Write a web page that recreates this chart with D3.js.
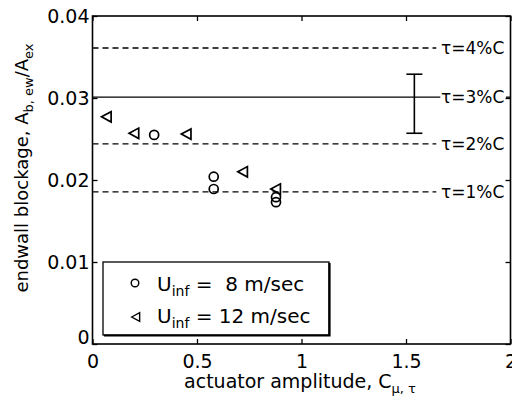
<!DOCTYPE html>
<html>
<head>
<meta charset="utf-8">
<script src="https://cdn.jsdelivr.net/npm/d3@7"></script>
<style>
  body { margin: 0; background: #fff; }
  svg text { font-family: "DejaVu Sans", "Liberation Sans", Arial, sans-serif; fill: #000; }
</style>
</head>
<body>
<script>
// data
let xTicks = [0, 0.5, 1, 1.5, 2];
let yTicks = [0, 0.01, 0.02, 0.03, 0.04];

let u8X = [0.295, 0.58, 0.58, 0.878, 0.878];
let u8Y = [0.0255, 0.0204, 0.0189, 0.0179, 0.0173];

let u12X = [0.068, 0.20, 0.45, 0.72, 0.878];
let u12Y = [0.0277, 0.0257, 0.0256, 0.0210, 0.0189];

let tauLabels = ['τ=4%C', 'τ=3%C', 'τ=2%C', 'τ=1%C'];
let tauLevels = [0.0361, 0.0301, 0.0244, 0.01855];
let tauDashed = [true, false, true, true];

let errX = 1.54;
let errLo = 0.0257;
let errHi = 0.0329;

let width = 512, height = 403;

let x = d3.scaleLinear().domain([0, 2]).range([92.5, 510.5]);
let y = d3.scaleLinear().domain([0, 0.04]).range([344, 16]);

let svg = d3.select('body').append('svg')
    .attr('width', width)
    .attr('height', height);

// reference lines, they stop short of the label
let lineEnd = 1.645;
tauLevels.forEach(function (v, i) {
    svg.append('line')
        .attr('x1', x(0))
        .attr('x2', tauDashed[i] ? x(lineEnd) : x(lineEnd) + 4)
        .attr('y1', y(v))
        .attr('y2', y(v))
        .attr('stroke', '#000')
        .attr('stroke-width', 1.3)
        .attr('stroke-dasharray', tauDashed[i] ? '6,4' : null);
    if (!tauDashed[i]) {
        // little stub after the label
        svg.append('line')
            .attr('x1', 506).attr('x2', x(2))
            .attr('y1', y(v)).attr('y2', y(v))
            .attr('stroke', '#000').attr('stroke-width', 1.3);
    }
});

svg.selectAll('text.tau')
    .data(tauLabels)
    .enter().append('text')
    .attr('class', 'tau')
    .attr('x', 441)
    .attr('y', (d, i) => y(tauLevels[i]) + 6)
    .attr('font-size', 17)
    .text(d => d);

// error bar
svg.append('line')
    .attr('x1', x(errX)).attr('x2', x(errX))
    .attr('y1', y(errHi)).attr('y2', y(errLo))
    .attr('stroke', '#000').attr('stroke-width', 1.6);
[errHi, errLo].forEach(function (v) {
    svg.append('line')
        .attr('x1', x(errX) - 8).attr('x2', x(errX) + 8)
        .attr('y1', y(v)).attr('y2', y(v))
        .attr('stroke', '#000').attr('stroke-width', 1.6);
});

// axes box with inward ticks
let axisOpts = (ax) => ax.tickSizeInner(-5).tickSizeOuter(0);

svg.append('g')
    .attr('transform', `translate(0,${y(0)})`)
    .call(axisOpts(d3.axisBottom(x).tickValues(xTicks).tickFormat(d3.format('~g'))))
    .call(g => g.selectAll('text').attr('font-size', 19).attr('y', 24).attr('dy', 0))
    .call(g => g.select('.domain').remove());

svg.append('g')
    .attr('transform', `translate(0,${y(0.04)})`)
    .call(axisOpts(d3.axisTop(x).tickValues(xTicks).tickFormat('')))
    .call(g => g.select('.domain').remove());

svg.append('g')
    .attr('transform', `translate(${x(0)},0)`)
    .call(axisOpts(d3.axisLeft(y).tickValues(yTicks).tickFormat(d => d === 0 ? '0' : d3.format('.2f')(d))))
    .call(g => g.selectAll('text').attr('font-size', 19).attr('x', -3))
    .call(g => g.selectAll('.tick').filter(d => d === 0).select('text').attr('dy', '-0.05em'))
    .call(g => g.select('.domain').remove());

svg.append('g')
    .attr('transform', `translate(${x(2)},0)`)
    .call(axisOpts(d3.axisRight(y).tickValues(yTicks).tickFormat('')))
    .call(g => g.select('.domain').remove());

svg.selectAll('.tick line').attr('stroke', '#000').attr('stroke-width', 1.3);

svg.append('rect')
    .attr('x', x(0)).attr('y', y(0.04))
    .attr('width', x(2) - x(0)).attr('height', y(0) - y(0.04))
    .attr('fill', 'none').attr('stroke', '#000').attr('stroke-width', 1.6);

// markers
let triangle = (cx, cy, s) =>
    `M${cx - s},${cy} L${cx + s * 0.85},${cy - s} L${cx + s * 0.85},${cy + s} Z`;

svg.selectAll('circle.u8')
    .data(u8X)
    .enter().append('circle')
    .attr('class', 'u8')
    .attr('cx', d => x(d))
    .attr('cy', (d, i) => y(u8Y[i]))
    .attr('r', 4.5)
    .attr('fill', 'none')
    .attr('stroke', '#000')
    .attr('stroke-width', 1.7);

svg.selectAll('path.u12')
    .data(u12X)
    .enter().append('path')
    .attr('class', 'u12')
    .attr('d', (d, i) => triangle(x(d), y(u12Y[i]), 5.2))
    .attr('fill', 'none')
    .attr('stroke', '#000')
    .attr('stroke-width', 1.7);

// legend
let legend = svg.append('g');
legend.append('rect')
    .attr('x', 103).attr('y', 262)
    .attr('width', 226).attr('height', 73)
    .attr('fill', '#fff').attr('stroke', '#000').attr('stroke-width', 1.3);
legend.append('path')
    .attr('d', 'M104,335.5 H329.5 V263')
    .attr('fill', 'none').attr('stroke', '#000').attr('stroke-width', 2.2);

legend.append('circle')
    .attr('cx', 135).attr('cy', 283).attr('r', 3.8)
    .attr('fill', 'none').attr('stroke', '#000').attr('stroke-width', 1.4);
legend.append('path')
    .attr('d', triangle(136, 317, 4.3))
    .attr('fill', 'none').attr('stroke', '#000').attr('stroke-width', 1.4);

let legendRows = [['8', 291], ['12', 323]];
legendRows.forEach(function (r, i) {
    let t = legend.append('text')
        .attr('x', 157).attr('y', r[1])
        .attr('font-size', 20)
        .attr('xml:space', 'preserve')
        .style('white-space', 'pre');
    t.append('tspan').text('U');
    t.append('tspan').attr('font-size', 14).attr('dy', 5).text('inf');
    t.append('tspan').attr('dy', -5).text(i === 0 ? ' =  8 m/sec' : ' = 12 m/sec');
});

// axis titles
let xl = svg.append('text')
    .attr('x', 300).attr('y', 388)
    .attr('text-anchor', 'middle')
    .attr('font-size', 19);
xl.append('tspan').text('actuator amplitude, C');
xl.append('tspan').attr('font-size', 13).attr('dy', 5).text('μ, τ');

let yl = svg.append('text')
    .attr('transform', 'translate(28,168) rotate(-90)')
    .attr('text-anchor', 'middle')
    .attr('font-size', 18);
yl.append('tspan').text('endwall blockage, A');
yl.append('tspan').attr('font-size', 13).attr('dy', 5).text('b, ew');
yl.append('tspan').attr('dy', -5).text('/A');
yl.append('tspan').attr('font-size', 13).attr('dy', 5).text('ex');
</script>
</body>
</html>
